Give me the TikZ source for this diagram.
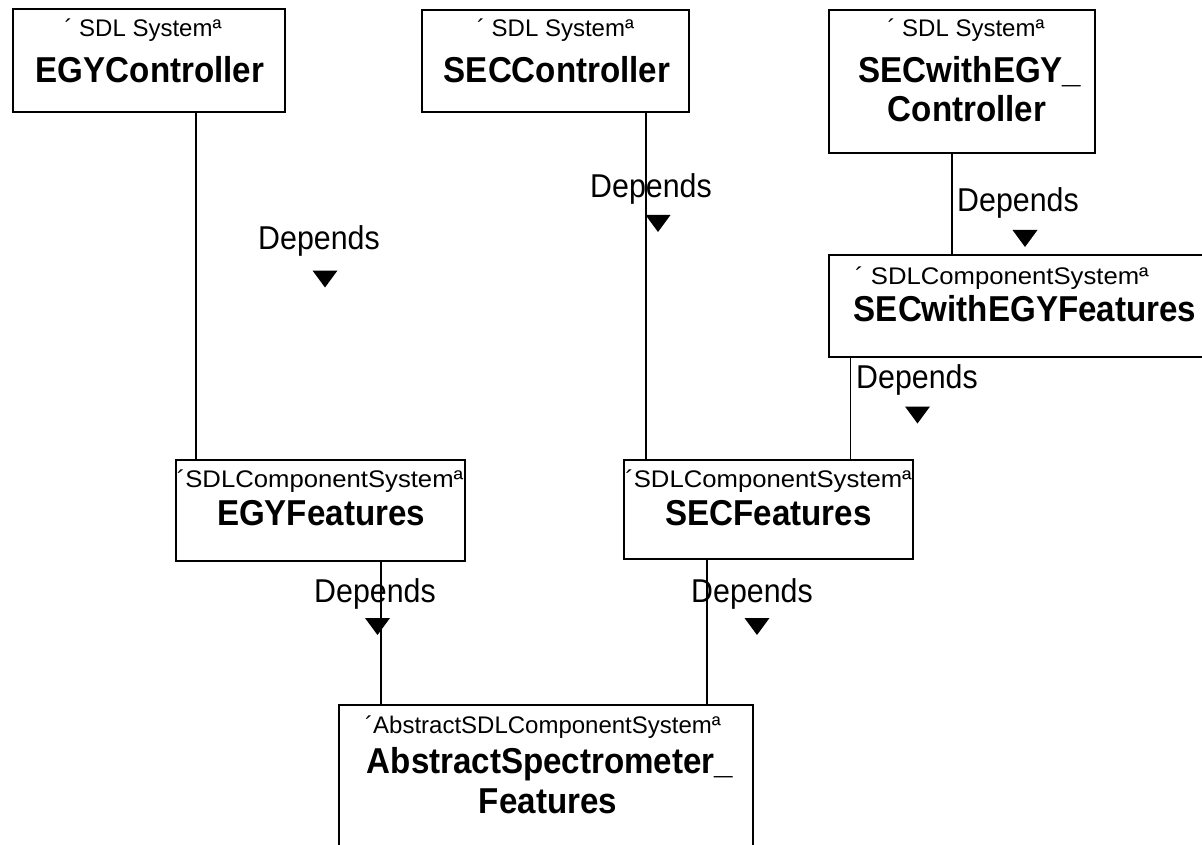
\documentclass[tikz,border=0pt]{standalone}
\usepackage{fontspec}
\setmainfont{Liberation Sans}
\newfontfamily\condfont[FakeStretch=0.92]{Liberation Sans}
\newfontfamily\widefont[FakeStretch=1.07]{Liberation Sans}
\usetikzlibrary{calc}
\tikzset{
  box/.style={draw=black, line width=1.3pt, fill=white, inner sep=0pt},
  stereo/.style={anchor=base, inner sep=0pt, font=\fontsize{24}{24}\selectfont},
  widestereo/.style={anchor=base, inner sep=0pt, font=\widefont\fontsize{24}{24}\selectfont},
  title/.style={anchor=base, inner sep=0pt, font=\condfont\fontsize{36}{36}\selectfont\bfseries},
  deplabel/.style={anchor=base, inner sep=0pt, font=\condfont\fontsize{33}{33}\selectfont},
  conn/.style={draw=black, line width=1.3pt},
  deptri/.pic={\fill[black] (-12.5,-8.5) -- (12.5,-8.5) -- (0,8.5) -- cycle;}
}
\begin{document}
\begin{tikzpicture}[x=1pt,y=-1pt]
\clip (0,0) rectangle (1202,845);
\fill[white] (0,0) rectangle (1202,845);

% boxes
\node[box, minimum width=272pt, minimum height=103pt] (egyc) at (149,60.5) {};
\node[box, minimum width=267pt, minimum height=102pt] (secc) at (555.5,61) {};
\node[box, minimum width=266pt, minimum height=143pt] (swec) at (962,81.5) {};
\node[box, minimum width=391pt, minimum height=102pt] (swef) at (1024.5,306) {};
\node[box, minimum width=289pt, minimum height=101pt] (egyf) at (320.5,510.5) {};
\node[box, minimum width=289pt, minimum height=99pt] (secf) at (768.5,509.5) {};
\node[box, minimum width=414pt, minimum height=175pt] (abs) at (546,792.5) {};

% texts
\node[stereo] (egycS) at (143,37) {´ SDL Systemª};
\node[title]  (egycT) at (150,83) {EGYController};
\node[stereo] (seccS) at (555.5,37) {´ SDL Systemª};
\node[title]  (seccT) at (557,83) {SECController};
\node[stereo] (swecS) at (966,37) {´ SDL Systemª};
\node[title]  (swecT1) at (970,83) {SECwithEGY\_};
\node[title]  (swecT2) at (967,122) {Controller};
\node[widestereo] (swefS) at (1002,284) {´ SDLComponentSystemª};
\node[title]  (swefT) at (1025,321) {SECwithEGYFeatures};
\node[widestereo] (egyfS) at (320,487) {´SDLComponentSystemª};
\node[title]  (egyfT) at (321,525) {EGYFeatures};
\node[widestereo] (secfS) at (768.5,487) {´SDLComponentSystemª};
\node[title]  (secfT) at (768.5,525) {SECFeatures};
\node[stereo] (absS) at (543,733) {´AbstractSDLComponentSystemª};
\node[title]  (absT1) at (550,773) {AbstractSpectrometer\_};
\node[title]  (absT2) at (548,813) {Features};

% connectors
\draw[conn] ([xshift=47pt]egyc.south) -- ([xshift=47pt]egyc.south |- egyf.north);
\draw[conn] ([xshift=90.5pt]secc.south) -- ([xshift=90.5pt]secc.south |- secf.north);
\draw[conn] ([xshift=-10pt]swec.south) -- ([xshift=-10pt]swec.south |- swef.north);
\draw[conn] ([xshift=22pt]swef.south west) -- ([xshift=22pt]swef.south west |- secf.north);
\draw[conn] ([xshift=60.5pt]egyf.south) -- ([xshift=60.5pt]egyf.south |- abs.north);
\draw[conn] ([xshift=-61.5pt]secf.south) -- ([xshift=-61.5pt]secf.south |- abs.north);

% dependency labels
\node[deplabel] (dA) at (319,250) {Depends};
\pic (tA) at (325,279) {deptri};
\node[deplabel] (dB) at (651,198) {Depends};
\pic (tB) at (658,223.5) {deptri};
\node[deplabel] (dC) at (1018,212) {Depends};
\pic (tC) at (1025,238.5) {deptri};
\node[deplabel] (dD) at (917,388) {Depends};
\pic (tD) at (917.5,415) {deptri};
\node[deplabel] (dE) at (375,602) {Depends};
\pic (tE) at (377.5,626.5) {deptri};
\node[deplabel] (dF) at (752,602) {Depends};
\pic (tF) at (757,626.5) {deptri};
\end{tikzpicture}
\end{document}
